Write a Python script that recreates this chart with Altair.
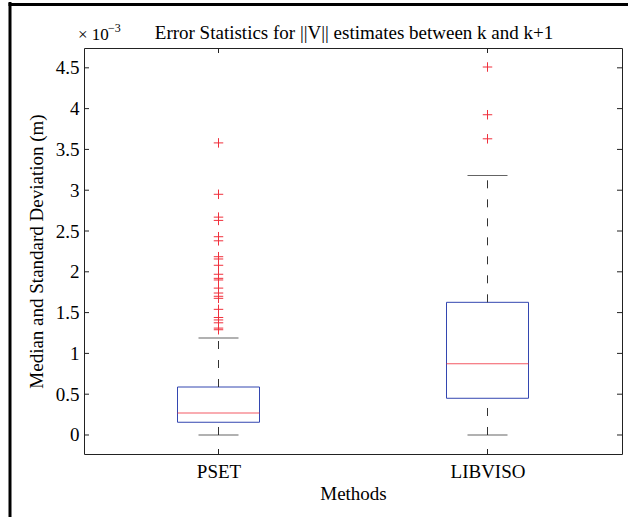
import altair as alt
import pandas as pd

# Box-plot summary per method (values in units of 1e-3 m)
methods = ["PSET", "LIBVISO"]
q1 = [0.156, 0.45]
median = [0.268, 0.874]
q3 = [0.588, 1.626]
whisker_lo = [0.0, 0.0]
whisker_hi = [1.19, 3.18]

pset_outliers = [3.58, 2.95, 2.67, 2.63, 2.43, 2.38, 2.185, 2.157, 2.08, 1.97,
                 1.92, 1.90, 1.80, 1.74, 1.70, 1.675, 1.54, 1.44, 1.41, 1.375,
                 1.31, 1.29]
libviso_outliers = [4.51, 3.925, 3.63]

y_ticks = [0, 0.5, 1, 1.5, 2, 2.5, 3, 3.5, 4, 4.5]

title_text = "Error Statistics for ||V|| estimates between k and k+1"
x_title = "Methods"
y_title = "Median and Standard Deviation (m)"

FONT = "Liberation Serif"
FS = 19
W, H = 538, 406
BOX_W = 82
CAP_W = 40
BLUE = "#3346b0"
RED = "#f0303c"

stats = pd.DataFrame({
    "method": methods, "q1": q1, "median": median, "q3": q3,
    "lo": whisker_lo, "hi": whisker_hi,
})
outliers = pd.DataFrame({
    "method": ["PSET"] * len(pset_outliers) + ["LIBVISO"] * len(libviso_outliers),
    "value": pset_outliers + libviso_outliers,
})
yt = pd.DataFrame({"v": y_ticks})
xt = pd.DataFrame({"method": methods})
one = pd.DataFrame({"a": [0]})

xscale = alt.Scale(type="point", domain=methods, padding=0.5)
yscale = alt.Scale(domain=[-0.233, 4.743], nice=False, zero=False)

x_axis = alt.Axis(
    title=x_title, ticks=False, domain=False, labelAngle=0, grid=False,
    labelFont=FONT, labelFontSize=FS, labelColor="black", labelPadding=8,
    titleFont=FONT, titleFontSize=FS, titleFontWeight="normal",
    titleColor="black", titlePadding=3,
)
y_axis = alt.Axis(
    title=y_title, values=y_ticks, format="~g", ticks=False, domain=False,
    grid=False, labelFont=FONT, labelFontSize=FS, labelColor="black",
    labelPadding=5, titleFont=FONT, titleFontSize=FS,
    titleFontWeight="normal", titleColor="black", titlePadding=9,
)


def X():
    return alt.X("method:N", scale=xscale, axis=x_axis, sort=methods)


def Y(field):
    return alt.Y(field, scale=yscale, axis=y_axis)


base = alt.Chart(stats)

# dashed whiskers
upper = base.mark_rule(color="#333333", strokeDash=[8, 11], strokeWidth=1).encode(
    x=X(), y=Y("q3:Q"), y2="hi:Q")
lower = base.mark_rule(color="#333333", strokeDash=[8, 11], strokeWidth=1).encode(
    x=X(), y=Y("lo:Q"), y2="q1:Q")

# whisker caps
cap_hi = base.mark_tick(color="#222222", size=CAP_W, thickness=1).encode(
    x=X(), y=Y("hi:Q"))
cap_lo = base.mark_tick(color="#222222", size=CAP_W, thickness=1).encode(
    x=X(), y=Y("lo:Q"))

# boxes
box = base.mark_bar(size=BOX_W, fill="white", fillOpacity=0, stroke=BLUE,
                    strokeWidth=1).encode(
    x=X(), y=Y("q1:Q"), y2="q3:Q")

med = base.mark_tick(color=RED, size=BOX_W, thickness=1, opacity=0.8).encode(
    x=X(), y=Y("median:Q"))

# outliers drawn as plus signs
out = alt.Chart(outliers).mark_point(
    shape="M-1,0H1M0,-1V1", filled=False, stroke=RED, strokeWidth=1, size=90,
    opacity=1).encode(
    x=X(), y=Y("value:Q"))

# inward tick marks on all four sides
tick_l = alt.Chart(yt).mark_rule(color="#222222").encode(
    y=Y("v:Q"), x=alt.value(0), x2=alt.value(5))
tick_r = alt.Chart(yt).mark_rule(color="#222222").encode(
    y=Y("v:Q"), x=alt.value(W - 5), x2=alt.value(W))
tick_b = alt.Chart(xt).mark_rule(color="#222222").encode(
    x=X(), y=alt.value(H - 5), y2=alt.value(H))
tick_t = alt.Chart(xt).mark_rule(color="#222222").encode(
    x=X(), y=alt.value(0), y2=alt.value(5))

# title and axis multiplier above the plot
title = alt.Chart(pd.DataFrame({"t": [title_text]})).mark_text(
    font=FONT, fontSize=FS, color="black", align="center", baseline="alphabetic"
).encode(text="t:N", x=alt.value(W / 2 + 1), y=alt.value(-9))
mult = alt.Chart(pd.DataFrame({"t": ["\u00d7 10"]})).mark_text(
    font=FONT, fontSize=17, color="black", align="left", baseline="alphabetic"
).encode(text="t:N", x=alt.value(-6), y=alt.value(-8))
mult_exp = alt.Chart(pd.DataFrame({"t": ["\u22123"]})).mark_text(
    font=FONT, fontSize=12, color="black", align="left", baseline="alphabetic"
).encode(text="t:N", x=alt.value(24), y=alt.value(-16))

# figure border on the left and top
border_l = alt.Chart(one).mark_rule(color="black", strokeWidth=3).encode(
    x=alt.value(-74), y=alt.value(-46), y2=alt.value(H + 70))
border_t = alt.Chart(one).mark_rule(color="black", strokeWidth=3).encode(
    x=alt.value(-75.5), x2=alt.value(W + 10), y=alt.value(-43.5))

chart = alt.layer(
    box, upper, lower, cap_hi, cap_lo, med, out,
    tick_l, tick_r, tick_b, tick_t, title, mult, mult_exp, border_l, border_t,
).properties(
    width=W, height=H,
    padding={"left": 84, "top": 48, "right": 6, "bottom": 63},
    autosize=alt.AutoSizeParams(type="none"),
    background="white",
).configure_view(stroke="#222222", strokeWidth=1)

chart.save("out.html", embed_options={"renderer": "svg", "actions": False})
